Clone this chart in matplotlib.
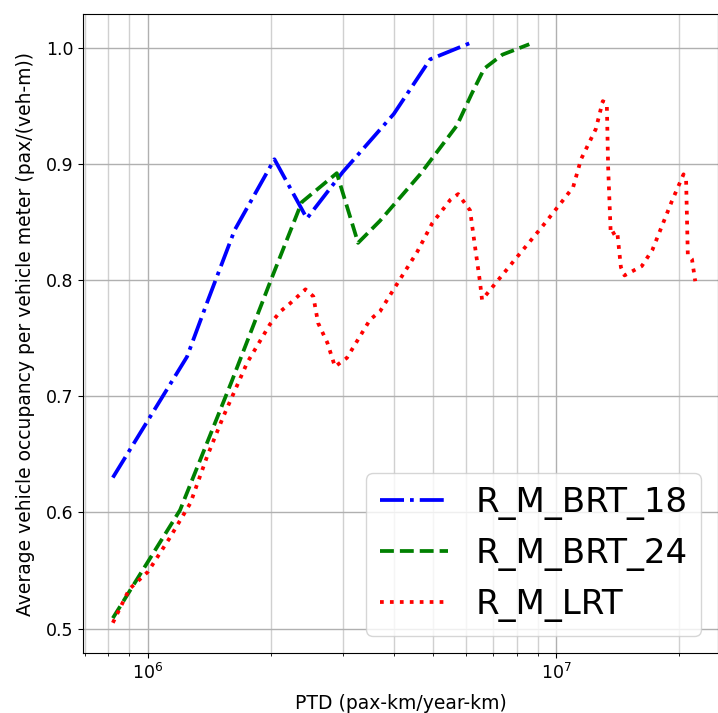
import numpy as np
import matplotlib
matplotlib.use('agg')
import matplotlib.pyplot as plt

# R_M_BRT_18
brt18_ptd = [8.2e5, 1.246e6, 1.40e6, 1.63e6, 2.04e6, 2.45e6, 3.0e6, 4.0e6,
             4.91e6, 6.15e6]
brt18_occ = [0.630, 0.734, 0.782, 0.843, 0.904, 0.853, 0.893, 0.943,
             0.990, 1.004]

# R_M_BRT_24
brt24_ptd = [8.2e5, 1.198e6, 1.60e6, 2.0e6, 2.38e6, 2.90e6, 3.27e6, 3.70e6,
             4.64e6, 5.71e6, 6.20e6, 6.66e6, 7.38e6, 8.59e6]
brt24_occ = [0.509, 0.602, 0.712, 0.800, 0.867, 0.892, 0.832, 0.851,
             0.891, 0.933, 0.960, 0.982, 0.994, 1.003]

# R_M_LRT
lrt_ptd = [8.2e5, 9.0e5, 1.0e6, 1.13e6, 1.27e6, 1.395e6, 1.527e6, 1.75e6,
           1.99e6, 2.11e6, 2.23e6, 2.43e6, 2.54e6, 2.61e6, 2.75e6, 2.87e6,
           3.07e6, 3.5e6, 3.70e6, 4.03e6, 4.56e6, 4.97e6, 5.50e6, 5.75e6,
           6.15e6, 6.30e6, 6.50e6, 6.58e6, 7.13e6, 7.98e6, 9.19e6, 1.03e7,
           1.10e7, 1.15e7, 1.25e7, 1.30e7, 1.33e7, 1.34e7, 1.36e7, 1.41e7,
           1.44e7, 1.47e7, 1.62e7, 1.72e7, 1.92e7, 2.05e7, 2.08e7, 2.10e7,
           2.15e7, 2.19e7]
lrt_occ = [0.505, 0.534, 0.549, 0.578, 0.608, 0.648, 0.682, 0.729,
           0.762, 0.773, 0.780, 0.792, 0.786, 0.763, 0.746, 0.7255,
           0.733, 0.766, 0.773, 0.794, 0.824, 0.849, 0.869, 0.874,
           0.860, 0.833, 0.799, 0.783, 0.798, 0.819, 0.845, 0.867,
           0.880, 0.904, 0.930, 0.954, 0.952, 0.897, 0.839, 0.842,
           0.811, 0.804, 0.812, 0.826, 0.868, 0.891, 0.886, 0.822,
           0.818, 0.799]

fig = plt.figure(figsize=(7.18, 7.13), dpi=100)
ax = fig.add_axes([83 / 718, 60 / 713, 635 / 718, 639 / 713])

ax.plot(brt18_ptd, brt18_occ, color='b', linestyle='-.', linewidth=2.7,
        label='R_M_BRT_18')
ax.plot(brt24_ptd, brt24_occ, color='g', linestyle='--', linewidth=2.7,
        label='R_M_BRT_24')
ax.plot(lrt_ptd, lrt_occ, color='r', linestyle=':', linewidth=2.7,
        label='R_M_LRT')

ax.set_xscale('log')
ax.set_xlim(6.93e5, 2.49e7)
ax.set_ylim(0.479, 1.029)
ax.set_yticks([0.5, 0.6, 0.7, 0.8, 0.9, 1.0])

ax.grid(True, which='major', color='#b0b0b0', linewidth=1.0)
ax.grid(True, which='minor', axis='x', color='#d0d0d0', linewidth=1.0)

ax.tick_params(labelsize=12.5)
ax.set_xlabel('PTD (pax-km/year-km)', fontsize=13.5, labelpad=8)
ax.set_ylabel('Average vehicle occupancy per vehicle meter (pax/(veh-m))',
              fontsize=13.5, labelpad=8)

ax.legend(loc='lower right', fontsize=24.5)

plt.savefig('out.png', dpi=100)
